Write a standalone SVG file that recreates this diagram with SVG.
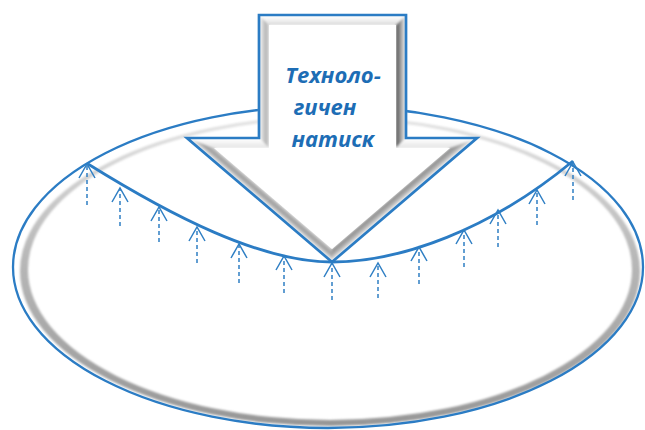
<svg xmlns="http://www.w3.org/2000/svg" width="645" height="430" viewBox="0 0 645 430">
  <style>
    .blue { stroke: #2b7cc4; fill: none; }
    .dash { stroke: #2f7fc4; stroke-width: 1.5; stroke-dasharray: 4 3; fill: none; marker-end: url(#chev); }
    .label { font-family: "Open Sans", "Noto Sans", "Liberation Sans", sans-serif; font-weight: bold; font-style: italic; font-size: 22px; fill: #1d6db5; text-anchor: middle; }
  </style>
  <defs>
    <marker id="chev" markerUnits="userSpaceOnUse" markerWidth="20" markerHeight="20" refX="0" refY="0" viewBox="-16 -10 18 20" orient="auto" overflow="visible">
      <path d="M-14,-8 L0,0 L-14,8" fill="none" stroke="#2f7fc4" stroke-width="1.5"/>
    </marker>
    <linearGradient id="ring" x1="0" y1="0" x2="0" y2="1">
      <stop offset="0" stop-color="#e4e4e4"/>
      <stop offset="0.45" stop-color="#b8b8b8"/>
      <stop offset="1" stop-color="#979797"/>
    </linearGradient>
    <filter id="soft" x="-5%" y="-5%" width="110%" height="110%">
      <feGaussianBlur stdDeviation="0.8"/>
    </filter>
    <!-- bevel faces: white at the outer edge, grey toward the inner edge -->
    <linearGradient id="bvTop" gradientUnits="userSpaceOnUse" x1="0" y1="16" x2="0" y2="25">
      <stop offset="0" stop-color="#ffffff"/>
      <stop offset="0.6" stop-color="#ececec"/>
      <stop offset="1" stop-color="#d6d6d6"/>
    </linearGradient>
    <linearGradient id="bvLeft" gradientUnits="userSpaceOnUse" x1="260" y1="0" x2="269" y2="0">
      <stop offset="0" stop-color="#f4f4f4"/>
      <stop offset="0.6" stop-color="#b8b8b8"/>
      <stop offset="1" stop-color="#d0d0d0"/>
    </linearGradient>
    <linearGradient id="bvRight" gradientUnits="userSpaceOnUse" x1="405" y1="0" x2="396" y2="0">
      <stop offset="0" stop-color="#e8e8e8"/>
      <stop offset="0.5" stop-color="#9a9a9a"/>
      <stop offset="1" stop-color="#4e4e4e"/>
    </linearGradient>
    <linearGradient id="bvShoulder" gradientUnits="userSpaceOnUse" x1="0" y1="139" x2="0" y2="148">
      <stop offset="0" stop-color="#ffffff"/>
      <stop offset="1" stop-color="#e4e4e4"/>
    </linearGradient>
    <linearGradient id="bvDiagL" gradientUnits="userSpaceOnUse" x1="259.5" y1="200" x2="266" y2="192.4">
      <stop offset="0" stop-color="#ffffff"/>
      <stop offset="0.55" stop-color="#9e9e9e"/>
      <stop offset="1" stop-color="#c4c4c4"/>
    </linearGradient>
    <linearGradient id="bvDiagR" gradientUnits="userSpaceOnUse" x1="404.5" y1="200" x2="398" y2="192.4">
      <stop offset="0" stop-color="#ffffff"/>
      <stop offset="0.55" stop-color="#a8a8a8"/>
      <stop offset="1" stop-color="#8a8a8a"/>
    </linearGradient>
  </defs>

  <rect width="645" height="430" fill="#ffffff"/>

  <!-- base ellipse: grey tube with blue rim -->
  <g id="ellipse">
    <path d="M20,271 A310,155 0 1,0 640,271 A310,155 0 1,0 20,271 Z M28,269.5 A302,150.5 0 1,1 632,269.5 A302,150.5 0 1,1 28,269.5 Z" fill="url(#ring)" fill-rule="evenodd" filter="url(#soft)"/>
    <ellipse cx="328" cy="267" rx="315" ry="161" class="blue" stroke-width="2.3"/>
  </g>

  <!-- downward pressure arrow -->
  <g id="pressure-arrow">
    <path d="M259,15 H406 V138 H477 L332,262 L187,138 H259 Z" fill="#ffffff"/>
    <g filter="url(#soft)">
      <path d="M259,15 H406 L396,25 H269 Z" fill="url(#bvTop)"/>
      <path d="M259,15 L269,25 V148 L259,138 Z" fill="url(#bvLeft)"/>
      <path d="M406,15 V138 L396,148 V25 Z" fill="url(#bvRight)"/>
      <path d="M187,138 H259 L269,148 H214 Z" fill="url(#bvShoulder)"/>
      <path d="M406,138 H477 L450,148 H396 Z" fill="url(#bvShoulder)"/>
      <path d="M187,138 L214,148 L332,249 L332,262 Z" fill="url(#bvDiagL)"/>
      <path d="M477,138 L332,262 L332,249 L450,148 Z" fill="url(#bvDiagR)"/>
    </g>
    <path d="M269,25 H396 V148 H450 L332,249 L214,148 H269 Z" fill="#ffffff"/>
    <path d="M259,15 H406 V138 H477 L332,262 L187,138 H259 Z" class="blue" stroke-width="2.7" stroke-linejoin="miter"/>
    <text class="label" x="333" y="83">Техноло-</text>
    <text class="label" x="325" y="115">гичен</text>
    <text class="label" x="333" y="147">натиск</text>
  </g>

  <!-- deformed surface and counter-pressure arrows -->
  <g id="connectors">
    <path d="M88,164 C170,215 260,262 332,262 C400,262 490,230 573,161" class="blue" stroke-width="2.8"/>
    <path class="dash" d="M87,205 V164"/>
    <path class="dash" d="M120,226 V188"/>
    <path class="dash" d="M159,242 V207"/>
    <path class="dash" d="M197,263 V227"/>
    <path class="dash" d="M239,283 V244"/>
    <path class="dash" d="M284,293 V256"/>
    <path class="dash" d="M332,300 V263"/>
    <path class="dash" d="M378,298 V263"/>
    <path class="dash" d="M419,284 V247"/>
    <path class="dash" d="M464,267 V230"/>
    <path class="dash" d="M498,247 V210"/>
    <path class="dash" d="M537,225 V190"/>
    <path class="dash" d="M573,200 V162"/>
  </g>
</svg>
